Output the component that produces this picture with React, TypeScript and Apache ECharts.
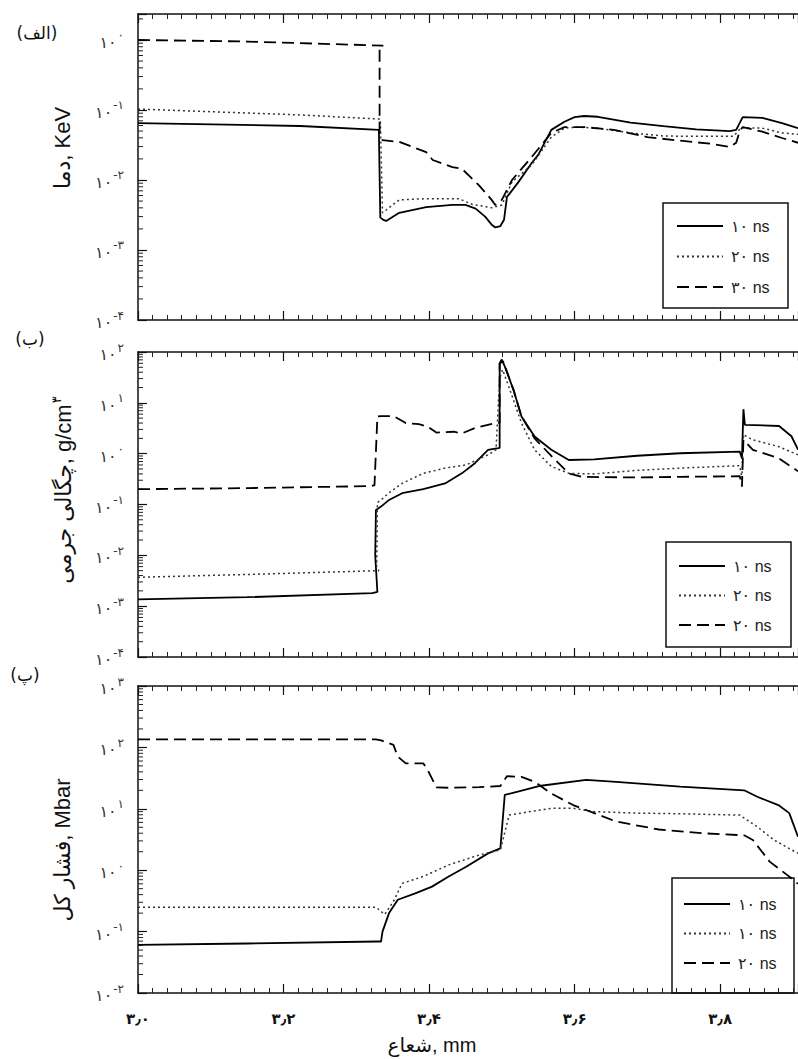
import React, { useEffect, useRef } from 'react';
import * as echarts from 'echarts';

// ---------- tick labels ----------
const xTickValues = [3.0, 3.2, 3.4, 3.6, 3.8];
const xTickLabels = ['۳٫۰', '۳٫۲', '۳٫۴', '۳٫۶', '۳٫۸'];
const faDigits = ['۰', '۱', '۲', '۳', '۴', '۵', '۶', '۷', '۸', '۹'];

// ---------- legend labels (as printed in each panel) ----------
const legendA = ['۱۰ ns', '۲۰ ns', '۳۰ ns'];
const legendB = ['۱۰ ns', '۲۰ ns', '۲۰ ns'];
const legendC = ['۱۰ ns', '۱۰ ns', '۲۰ ns'];

// ---------- panel (الف): temperature, keV ----------
const tempSolid10 = [[3.0,0.065],[3.223,0.059],[3.331,0.052],[3.333,0.0029],[3.337,0.0027],[3.341,0.0026],[3.359,0.0034],[3.396,0.0041],[3.432,0.0044],[3.45,0.0044],[3.464,0.0039],[3.477,0.0030],[3.486,0.0023],[3.491,0.0021],[3.498,0.0022],[3.503,0.0027],[3.507,0.0057],[3.523,0.0094],[3.541,0.0175],[3.55,0.0228],[3.568,0.052],[3.586,0.068],[3.6,0.079],[3.613,0.082],[3.632,0.080],[3.677,0.066],[3.722,0.059],[3.767,0.053],[3.813,0.050],[3.822,0.052],[3.831,0.079],[3.858,0.077],[3.885,0.065],[3.907,0.055]];
const tempDotted20 = [[3.0,0.103],[3.223,0.085],[3.333,0.074],[3.336,0.0034],[3.359,0.0052],[3.396,0.0054],[3.441,0.0054],[3.459,0.0045],[3.486,0.0040],[3.5,0.0044],[3.514,0.0094],[3.541,0.0164],[3.568,0.041],[3.586,0.055],[3.604,0.057],[3.632,0.055],[3.677,0.047],[3.722,0.0425],[3.767,0.042],[3.818,0.042],[3.827,0.053],[3.831,0.056],[3.858,0.055],[3.885,0.047],[3.907,0.045]];
const tempDashed30 = [[3.0,1.0],[3.15,0.95],[3.337,0.83],[3.332,0.8],[3.332,0.049],[3.336,0.037],[3.359,0.035],[3.396,0.025],[3.405,0.0193],[3.432,0.0153],[3.445,0.0145],[3.468,0.0085],[3.486,0.0052],[3.491,0.0044],[3.5,0.0052],[3.514,0.01],[3.541,0.0213],[3.568,0.047],[3.586,0.057],[3.613,0.057],[3.654,0.052],[3.7,0.041],[3.745,0.0364],[3.79,0.0327],[3.813,0.0296],[3.822,0.034],[3.827,0.05],[3.831,0.057],[3.858,0.049],[3.885,0.0398],[3.907,0.034]];

// ---------- panel (ب): mass density, g/cm3 ----------
const densSolid10 = [[3.0,0.00136],[3.15,0.0015],[3.322,0.0018],[3.329,0.0019],[3.326,0.01],[3.327,0.078],[3.334,0.091],[3.345,0.123],[3.363,0.167],[3.392,0.20],[3.422,0.26],[3.445,0.41],[3.463,0.65],[3.481,1.19],[3.495,1.28],[3.497,1.3],[3.497,60],[3.5,71],[3.504,52],[3.516,18],[3.527,5.4],[3.545,2.17],[3.568,1.19],[3.592,0.75],[3.627,0.77],[3.686,0.91],[3.745,1.02],[3.827,1.1],[3.83,0.8],[3.832,7.5],[3.834,3.7],[3.881,3.5],[3.898,2.2],[3.907,1.2]];
const densDotted20 = [[3.0,0.0037],[3.15,0.0042],[3.331,0.005],[3.328,0.006],[3.329,0.11],[3.334,0.123],[3.345,0.17],[3.363,0.26],[3.392,0.41],[3.422,0.52],[3.451,0.6],[3.481,0.95],[3.492,1.19],[3.497,30],[3.501,45],[3.51,20],[3.527,4.0],[3.545,1.19],[3.568,0.56],[3.592,0.41],[3.627,0.40],[3.686,0.47],[3.745,0.52],[3.827,0.58],[3.83,0.33],[3.832,2.35],[3.845,1.87],[3.88,1.38],[3.907,0.95]];
const densDashed30 = [[3.0,0.2],[3.15,0.21],[3.32,0.23],[3.325,0.24],[3.329,5.4],[3.334,5.5],[3.351,5.5],[3.368,4.0],[3.386,3.8],[3.398,3.4],[3.41,2.6],[3.434,2.7],[3.445,2.5],[3.463,3.2],[3.492,4.0],[3.497,4.1],[3.497,60],[3.502,65],[3.516,18],[3.527,5.4],[3.545,2.0],[3.568,0.9],[3.592,0.41],[3.61,0.35],[3.686,0.34],[3.745,0.35],[3.827,0.36],[3.83,0.225],[3.832,1.87],[3.845,1.19],[3.88,0.82],[3.907,0.45]];

// ---------- panel (پ): total pressure, Mbar ----------
const presSolid10 = [[3.0,0.061],[3.15,0.064],[3.329,0.069],[3.334,0.069],[3.336,0.1],[3.345,0.2],[3.357,0.33],[3.381,0.42],[3.404,0.54],[3.427,0.79],[3.451,1.14],[3.481,1.88],[3.498,2.27],[3.504,16.8],[3.522,19],[3.551,23.5],[3.616,29.5],[3.657,27.5],[3.745,23],[3.833,20],[3.851,15.7],[3.88,11.5],[3.895,8.5],[3.907,3.5]];
const presDotted20 = [[3.0,0.25],[3.15,0.25],[3.327,0.25],[3.339,0.19],[3.351,0.31],[3.363,0.61],[3.392,0.79],[3.427,1.22],[3.469,1.77],[3.498,2.14],[3.51,7.9],[3.539,9.0],[3.568,10.2],[3.598,10.2],[3.627,9.0],[3.686,8.5],[3.745,8.3],[3.827,7.9],[3.851,5.1],[3.874,3.1],[3.907,1.88]];
const presDashed30 = [[3.0,135],[3.15,135],[3.327,135],[3.334,130],[3.351,110],[3.357,71],[3.368,55],[3.392,55],[3.398,43],[3.41,22.4],[3.427,22],[3.469,22.5],[3.498,23.5],[3.507,34],[3.527,33],[3.545,27.5],[3.568,17.8],[3.598,11.5],[3.627,8.5],[3.657,6.2],[3.716,4.6],[3.775,4.0],[3.833,3.7],[3.845,3.1],[3.868,1.38],[3.898,0.74],[3.907,0.6]];

// axis ranges
const X_MIN = 3.0;
const X_MAX = 3.907;
const yRanges = [
  [1e-4, Math.pow(10, 0.371)],
  [1e-4, 100],
  [1e-2, 1000],
];

const FA_FONT = '"DejaVu Sans", sans-serif';
const MIX_FONT = '"Liberation Sans", "DejaVu Sans", sans-serif';

function fa(n: number): string {
  const s = String(Math.abs(n)).split('').map((d) => faDigits[+d]).join('');
  return n < 0 ? '-' + s : s;
}

function minorTickData(minV: number, maxV: number) {
  const out: number[][] = [];
  const e0 = Math.floor(Math.log10(minV));
  const e1 = Math.ceil(Math.log10(maxV));
  for (let e = e0; e < e1; e++) {
    for (let k = 2; k <= 9; k++) {
      const v = k * Math.pow(10, e);
      if (v > minV && v < maxV) out.push([X_MIN, v]);
    }
  }
  return out;
}

const legendNames: Record<string, string> = {
  a10: legendA[0], a20: legendA[1], a30: legendA[2],
  b10: legendB[0], b20: legendB[1], b30: legendB[2],
  c10: legendC[0], c20: legendC[1], c30: legendC[2],
};

export default function App() {
  const ref = useRef<HTMLDivElement>(null);
  useEffect(() => {
    if (!ref.current) return;
    const chart = echarts.init(ref.current, null, { renderer: 'svg' });

    const grids = [
      { left: 138, top: 14, width: 662, height: 306 },
      { left: 138, top: 352, width: 662, height: 305 },
      { left: 138, top: 686, width: 662, height: 307 },
    ];

    const xAxes: any[] = [];
    grids.forEach((_, gi) => {
      const isLast = gi === 2;
      xAxes.push({
        type: 'value', gridIndex: gi, position: 'bottom', min: X_MIN, max: X_MAX, interval: 0.2,
        axisLine: { show: true, lineStyle: { color: '#111', width: 1.5 } },
        axisTick: { show: true, inside: true, length: 9, lineStyle: { color: '#111', width: 1.2 } },
        minorTick: { show: true, splitNumber: 10, length: 5, lineStyle: { color: '#222', width: 1 } },
        splitLine: { show: false },
        axisLabel: {
          show: isLast, margin: 18, fontSize: 15, fontWeight: 'bold', color: '#111', fontFamily: FA_FONT,
          showMaxLabel: false,
          formatter: (v: number) => {
            const i = xTickValues.findIndex((t) => Math.abs(t - v) < 1e-6);
            return i >= 0 ? xTickLabels[i] : '';
          },
        },
      });
      xAxes.push({
        type: 'value', gridIndex: gi, position: 'top', min: X_MIN, max: X_MAX, interval: 0.2,
        axisLine: { show: true, lineStyle: { color: '#111', width: 1.5 } },
        axisTick: { show: true, inside: true, length: 9, lineStyle: { color: '#111', width: 1.2 } },
        minorTick: { show: true, splitNumber: 10, length: 5, lineStyle: { color: '#222', width: 1 } },
        splitLine: { show: false },
        axisLabel: { show: false },
      });
    });

    const yAxes = yRanges.map((r, gi) => ({
      type: 'log', logBase: 10, gridIndex: gi, min: r[0], max: r[1],
      axisLine: { show: true, lineStyle: { color: '#111', width: 1.5 } },
      axisTick: { show: true, inside: true, length: 9, lineStyle: { color: '#111', width: 1.2 } },
      splitLine: { show: false },
      axisLabel: {
        margin: 14,
        color: '#333',
        formatter: (v: number) => {
          const e = Math.log10(v);
          const rr = Math.round(e);
          if (Math.abs(e - rr) > 0.02) return '';
          return `{b|۱۰}{s|${fa(rr)}}`;
        },
        rich: {
          b: { fontSize: 16, fontFamily: FA_FONT, color: '#333', verticalAlign: 'bottom' },
          s: { fontSize: 12, fontFamily: FA_FONT, color: '#333', verticalAlign: 'bottom', padding: [0, 0, 9, 1] },
        },
      },
    }));

    const solid = { color: '#000', width: 1.8, type: 'solid' };
    const dotted = { color: '#333', width: 1.5, type: [2, 3] };
    const dashed = { color: '#000', width: 1.8, type: [12, 6] };

    const mk = (name: string, data: number[][], gi: number, ls: any) => ({
      name, type: 'line', data, xAxisIndex: gi * 2, yAxisIndex: gi,
      showSymbol: false, symbol: 'none', lineStyle: ls, itemStyle: { color: ls.color },
      silent: true,
    });

    const minorSeries = yRanges.map((r, gi) => ({
      type: 'custom', xAxisIndex: gi * 2, yAxisIndex: gi, silent: true,
      data: minorTickData(r[0], r[1]),
      renderItem: (params: any, api: any) => {
        const p = api.coord([api.value(0), api.value(1)]);
        return {
          type: 'line',
          shape: { x1: p[0], y1: p[1], x2: p[0] + 5, y2: p[1] },
          style: { stroke: '#222', lineWidth: 1 },
        };
      },
    }));

    const legendCommon = {
      orient: 'vertical', itemWidth: 46, itemHeight: 14, padding: 0, selectedMode: false,
      formatter: (n: string) => legendNames[n],
      textStyle: { fontSize: 16, fontFamily: MIX_FONT, color: '#222', padding: [0, 0, 0, 3] },
      itemStyle: { opacity: 0, borderWidth: 0 },
      lineStyle: { type: 'inherit' },
    };

    const boxStyle = { stroke: '#111', lineWidth: 1.5, fill: 'rgba(0,0,0,0)' };

    const option: any = {
      animation: false,
      backgroundColor: '#fff',
      grid: grids,
      xAxis: xAxes,
      yAxis: yAxes,
      legend: [
        { ...legendCommon, data: ['a10', 'a20', 'a30'], left: 676, top: 218, itemGap: 14.5 },
        { ...legendCommon, data: ['b10', 'b20', 'b30'], left: 678, top: 558, itemGap: 13.5 },
        { ...legendCommon, data: ['c10', 'c20', 'c30'], left: 683, top: 896, itemGap: 13.5 },
      ],
      series: [
        mk('a10', tempSolid10, 0, solid),
        mk('a20', tempDotted20, 0, dotted),
        mk('a30', tempDashed30, 0, dashed),
        mk('b10', densSolid10, 1, solid),
        mk('b20', densDotted20, 1, dotted),
        mk('b30', densDashed30, 1, dashed),
        mk('c10', presSolid10, 2, solid),
        mk('c20', presDotted20, 2, dotted),
        mk('c30', presDashed30, 2, dashed),
        ...minorSeries,
      ],
      graphic: [
        { type: 'rect', shape: { x: 663, y: 203, width: 125, height: 105 }, style: boxStyle, silent: true },
        { type: 'rect', shape: { x: 666, y: 542, width: 125, height: 105 }, style: boxStyle, silent: true },
        { type: 'rect', shape: { x: 672, y: 878, width: 122, height: 115 }, style: boxStyle, silent: true },
        { type: 'text', x: 37, y: 33, style: { text: '(الف)', fontSize: 17, fontFamily: FA_FONT, fill: '#111', align: 'center', verticalAlign: 'middle', textAlign: 'center', textVerticalAlign: 'middle' } },
        { type: 'text', x: 30, y: 339, style: { text: '(ب)', fontSize: 17, fontFamily: FA_FONT, fill: '#111', align: 'center', verticalAlign: 'middle', textAlign: 'center', textVerticalAlign: 'middle' } },
        { type: 'text', x: 25, y: 675, style: { text: '(پ)', fontSize: 17, fontFamily: FA_FONT, fill: '#111', align: 'center', verticalAlign: 'middle', textAlign: 'center', textVerticalAlign: 'middle' } },
        { type: 'text', x: 62, y: 148, rotation: Math.PI / 2, style: { text: 'دما, KeV', fontSize: 22, fontFamily: MIX_FONT, fill: '#111', align: 'center', verticalAlign: 'middle', textAlign: 'center', textVerticalAlign: 'middle' } },
        {
          type: 'text', x: 62, y: 490, rotation: Math.PI / 2,
          style: {
            text: '{a|چگالی جرمی, g/cm}{s|۳}', fill: '#111', align: 'center', verticalAlign: 'middle', textAlign: 'center', textVerticalAlign: 'middle',
            rich: {
              a: { fontSize: 22, fontFamily: MIX_FONT, fill: '#111', verticalAlign: 'bottom' },
              s: { fontSize: 13, fontFamily: FA_FONT, fill: '#111', verticalAlign: 'bottom', padding: [0, 0, 12, 1] },
            },
          },
        },
        { type: 'text', x: 62, y: 850, rotation: Math.PI / 2, style: { text: 'فشار کل, Mbar', fontSize: 22, fontFamily: MIX_FONT, fill: '#111', align: 'center', verticalAlign: 'middle', textAlign: 'center', textVerticalAlign: 'middle' } },
        { type: 'text', x: 432, y: 1045, style: { text: 'شعاع, mm', fontSize: 20, fontFamily: MIX_FONT, fill: '#111', align: 'center', verticalAlign: 'middle', textAlign: 'center', textVerticalAlign: 'middle' } },
      ],
    };

    chart.setOption(option);
    return () => chart.dispose();
  }, []);

  return <div ref={ref} style={{ position: 'absolute', left: 0, top: 0, width: 798, height: 1059, background: '#fff' }} />;
}
